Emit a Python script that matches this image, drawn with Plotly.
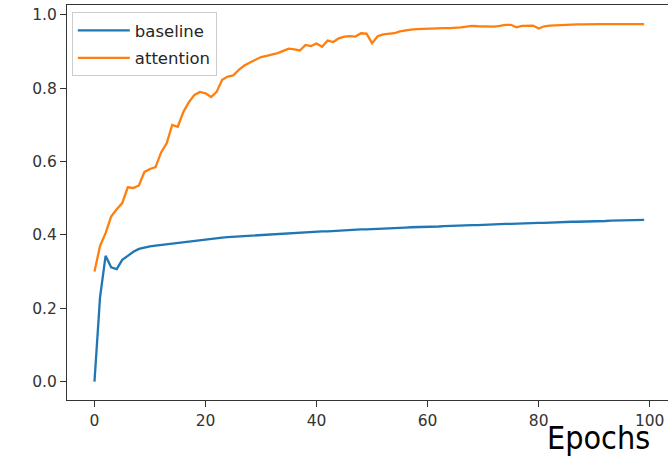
import plotly.graph_objects as go

epochs = list(range(100))

baseline = [
    0.000, 0.230, 0.343, 0.312, 0.307, 0.332, 0.343, 0.354, 0.362, 0.366,
    0.369, 0.371, 0.373, 0.375, 0.377, 0.379, 0.381, 0.383, 0.385, 0.387,
    0.388, 0.390, 0.391, 0.393, 0.394, 0.395, 0.396, 0.397, 0.398, 0.399,
    0.400, 0.401, 0.402, 0.403, 0.404, 0.405, 0.405, 0.406, 0.407, 0.408,
    0.409, 0.410, 0.410, 0.411, 0.412, 0.413, 0.413, 0.414, 0.415, 0.415,
    0.416, 0.417, 0.417, 0.418, 0.419, 0.419, 0.420, 0.421, 0.421, 0.422,
    0.422, 0.423, 0.423, 0.424, 0.425, 0.425, 0.426, 0.426, 0.427, 0.427,
    0.428, 0.428, 0.429, 0.429, 0.430, 0.430, 0.431, 0.431, 0.432, 0.432,
    0.433, 0.433, 0.434, 0.434, 0.435, 0.435, 0.436, 0.436, 0.436, 0.437,
    0.437, 0.438, 0.438, 0.439, 0.439, 0.439, 0.440, 0.440, 0.441, 0.441,
]

attention = [
    0.300, 0.370, 0.405, 0.450, 0.470, 0.487, 0.530, 0.528, 0.535, 0.572,
    0.580, 0.585, 0.625, 0.650, 0.700, 0.695, 0.735, 0.762, 0.782, 0.790,
    0.786, 0.776, 0.790, 0.823, 0.832, 0.835, 0.850, 0.862, 0.870, 0.878,
    0.885, 0.888, 0.891, 0.896, 0.902, 0.908, 0.906, 0.903, 0.918, 0.915,
    0.922, 0.913, 0.930, 0.926, 0.936, 0.941, 0.942, 0.941, 0.950, 0.949,
    0.923, 0.942, 0.947, 0.948, 0.950, 0.955, 0.958, 0.960, 0.961, 0.962,
    0.962, 0.963, 0.963, 0.964, 0.964, 0.964, 0.966, 0.968, 0.970, 0.969,
    0.968, 0.968, 0.968, 0.970, 0.973, 0.973, 0.966, 0.970, 0.971, 0.971,
    0.963, 0.969, 0.971, 0.972, 0.972, 0.973, 0.973, 0.974, 0.974, 0.975,
    0.975, 0.975, 0.975, 0.975, 0.975, 0.975, 0.975, 0.975, 0.975, 0.975,
]

x_ticks = [0, 20, 40, 60, 80, 100]
y_ticks = [0.0, 0.2, 0.4, 0.6, 0.8, 1.0]
y_tick_labels = ["0.0", "0.2", "0.4", "0.6", "0.8", "1.0"]

fig = go.Figure()
fig.add_trace(go.Scatter(x=epochs, y=baseline, mode="lines", name="baseline",
                         legendgroup="a",
                         line=dict(color="#1f77b4", width=2.3)))
fig.add_trace(go.Scatter(x=epochs, y=attention, mode="lines", name="attention",
                         legendgroup="b",
                         line=dict(color="#ff7f0e", width=2.3)))

axis_font = dict(family="DejaVu Sans", size=15.5, color="#333333")

fig.update_layout(
    width=668, height=460,
    margin=dict(l=67, r=0, t=5, b=60, autoexpand=False),
    paper_bgcolor="white", plot_bgcolor="white",
    showlegend=True,
    legend=dict(
        x=0.008, y=0.982, xanchor="left", yanchor="top",
        bgcolor="rgba(255,255,255,0.8)", bordercolor="#cccccc", borderwidth=1,
        font=dict(family="DejaVu Sans", size=16.5, color="#262626"),
        tracegroupgap=3, itemwidth=52,
    ),
    xaxis=dict(
        range=[-4.95, 103.3], tickvals=x_ticks, ticks="outside", ticklen=6,
        tickcolor="#333333", showline=True, linecolor="#333333", linewidth=1.2,
        mirror=True, showgrid=False, zeroline=False, tickfont=axis_font,
        automargin=False,
    ),
    yaxis=dict(
        range=[-0.050, 1.027], tickvals=y_ticks, ticktext=y_tick_labels,
        ticks="outside", ticklen=6, tickcolor="#333333", showline=True,
        linecolor="#333333", linewidth=1.2, mirror=False, showgrid=False,
        zeroline=False, tickfont=axis_font, automargin=False,
    ),
    annotations=[dict(
        text="Epochs", xref="paper", yref="paper", x=0.884, y=-0.096,
        xanchor="center", yanchor="middle", showarrow=False,
        font=dict(family="DejaVu Sans Condensed, DejaVu Sans", size=32, color="#000000"),
    )],
)

fig.write_html("out.html",
               config={"displayModeBar": False},
               post_script="document.body.style.margin='0';document.body.style.padding='0';")
